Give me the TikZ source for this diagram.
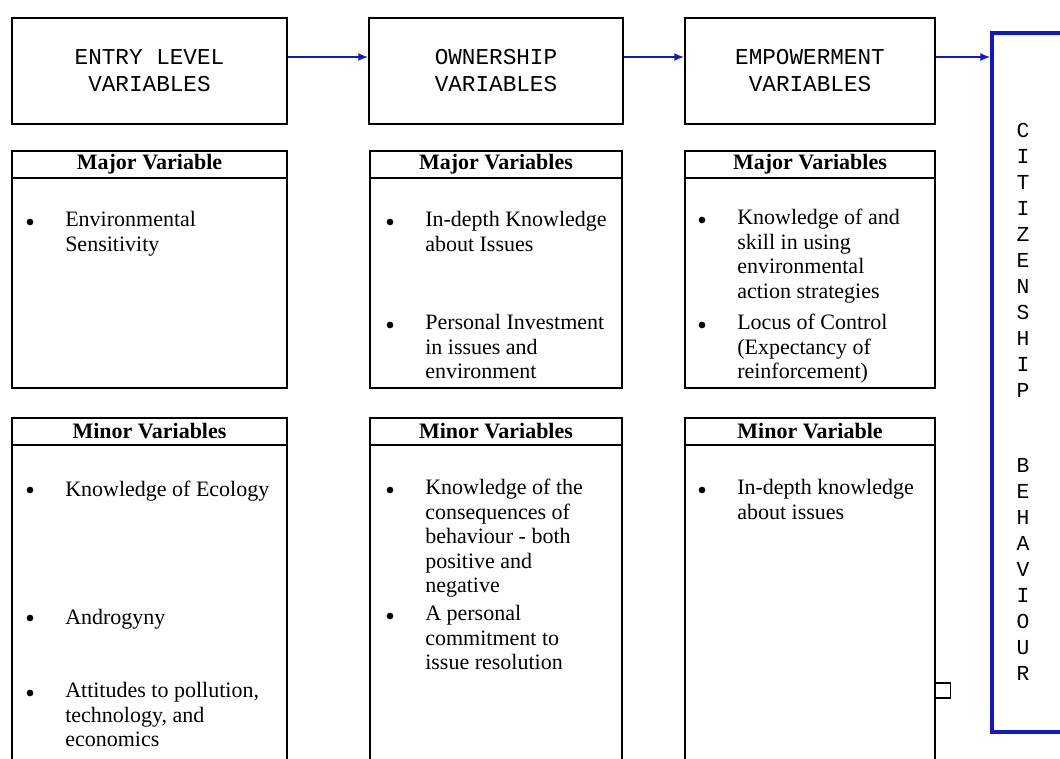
\documentclass[tikz,border=0pt]{standalone}
\usepackage{fontspec}
\setmainfont{Liberation Serif}
\setmonofont{Liberation Mono}
\usetikzlibrary{arrows.meta}
\definecolor{flowblue}{RGB}{16,24,200}

\begin{document}
\begin{tikzpicture}[x=0.75pt, y=-0.75pt,
    level/.style={rectangle, minimum height=79.5pt, align=center, draw=black, line width=1.1pt, font=\ttfamily\fontsize{17}{20.25}\selectfont},
    varbox/.style={rectangle, draw=black, line width=1.1pt},
    head/.style={rectangle, draw=black, line width=1.1pt, minimum height=20.25pt, anchor=north, inner sep=0pt, font=\bfseries\fontsize{16.5}{18}\selectfont},
    item/.style={anchor=north west, align=left, inner sep=0pt, execute at begin node=\strut, font=\fontsize{16.5}{18.4}\selectfont},
    dot/.style={circle, fill=black, inner sep=0pt, minimum size=5pt},
    arrow/.style={line width=1.4pt, ->, >={Latex[length=7.5pt,width=6pt]}, draw=flowblue}
]
\useasboundingbox (0,0) rectangle (1060,759);
\clip (0,0) rectangle (1060,759);

% Stages of variables
\node[level, minimum width=206.25pt] (level1) at (149.5,71) {ENTRY LEVEL\\VARIABLES};
\node[level, minimum width=190.5pt] (level2) at (496,71) {OWNERSHIP\\VARIABLES};
\node[level, minimum width=187.5pt] (level3) at (810,71) {EMPOWERMENT\\VARIABLES};

% Outcome box
\node[rectangle, draw=flowblue, line width=2.4pt, minimum width=81pt, minimum height=524.25pt] (citizen) at (1046,382.5) {};
\node[font=\ttfamily\fontsize{16}{19.5}\selectfont, align=center, inner sep=0pt] (citizenlbl) at (1023,401.5)
    {C\\I\\T\\I\\Z\\E\\N\\S\\H\\I\\P\\[36.75pt]B\\E\\H\\A\\V\\I\\O\\U\\R};
\node[rectangle, draw=black, line width=1.1pt, minimum size=11.25pt, inner sep=0pt] (tab) at (943,690.5) {};

% Arrows between stages
\draw[arrow] ([yshift=10.5pt]level1.east) -- ([yshift=10.5pt]level2.west);
\draw[arrow] ([yshift=10.5pt]level2.east) -- ([yshift=10.5pt]level3.west);
\draw[arrow] ([yshift=10.5pt]level3.east) -- ([yshift=10.5pt]level3.east -| citizen.west);

% Major variables
\node[varbox, minimum width=206.25pt, minimum height=177.75pt] (major1) at (149.5,269.5) {};
\node[varbox, minimum width=189pt, minimum height=177.75pt] (major2) at (496,269.5) {};
\node[varbox, minimum width=187.5pt, minimum height=177.75pt] (major3) at (810,269.5) {};
\node[head, minimum width=206.25pt] (major1h) at (major1.north) {Major Variable};
\node[head, minimum width=189pt] (major2h) at (major2.north) {Major Variables};
\node[head, minimum width=187.5pt] (major3h) at (major3.north) {Major Variables};

\node[dot] (b11) at (30,222) {};
\node[item] (t11) at (65,211) {Environmental\\Sensitivity};
\node[dot] (b21) at (390,222) {};
\node[item] (t21) at (425,211) {In-depth Knowledge\\about Issues};
\node[dot] (b22) at (390,325) {};
\node[item] (t22) at (425,314) {Personal Investment\\in issues and\\environment};
\node[dot] (b31) at (702,220) {};
\node[item] (t31) at (737,209) {Knowledge of and\\skill in using\\environmental\\action strategies};
\node[dot] (b32) at (702,325) {};
\node[item] (t32) at (737,314) {Locus of Control\\(Expectancy of\\reinforcement)};

% Minor variables
\node[varbox, minimum width=206.25pt, minimum height=286.5pt] (minor1) at (149.5,609) {};
\node[varbox, minimum width=189pt, minimum height=286.5pt] (minor2) at (496,609) {};
\node[varbox, minimum width=187.5pt, minimum height=286.5pt] (minor3) at (810,609) {};
\node[head, minimum width=206.25pt] (minor1h) at (minor1.north) {Minor Variables};
\node[head, minimum width=189pt] (minor2h) at (minor2.north) {Minor Variables};
\node[head, minimum width=187.5pt] (minor3h) at (minor3.north) {Minor Variable};

\node[dot] (m11) at (30,490) {};
\node[item] (n11) at (65,479) {Knowledge of Ecology};
\node[dot] (m12) at (30,618) {};
\node[item] (n12) at (65,607) {Androgyny};
\node[dot] (m13) at (30,693) {};
\node[item] (n13) at (65,682) {Attitudes to pollution,\\technology, and\\economics};
\node[dot] (m21) at (390,490) {};
\node[item] (n21) at (425,479) {Knowledge of the\\consequences of\\behaviour - both\\positive and\\negative};
\node[dot] (m22) at (390,616) {};
\node[item] (n22) at (425,605) {A personal\\commitment to\\issue resolution};
\node[dot] (m31) at (702,490) {};
\node[item] (n31) at (737,479) {In-depth knowledge\\about issues};

\end{tikzpicture}
\end{document}
